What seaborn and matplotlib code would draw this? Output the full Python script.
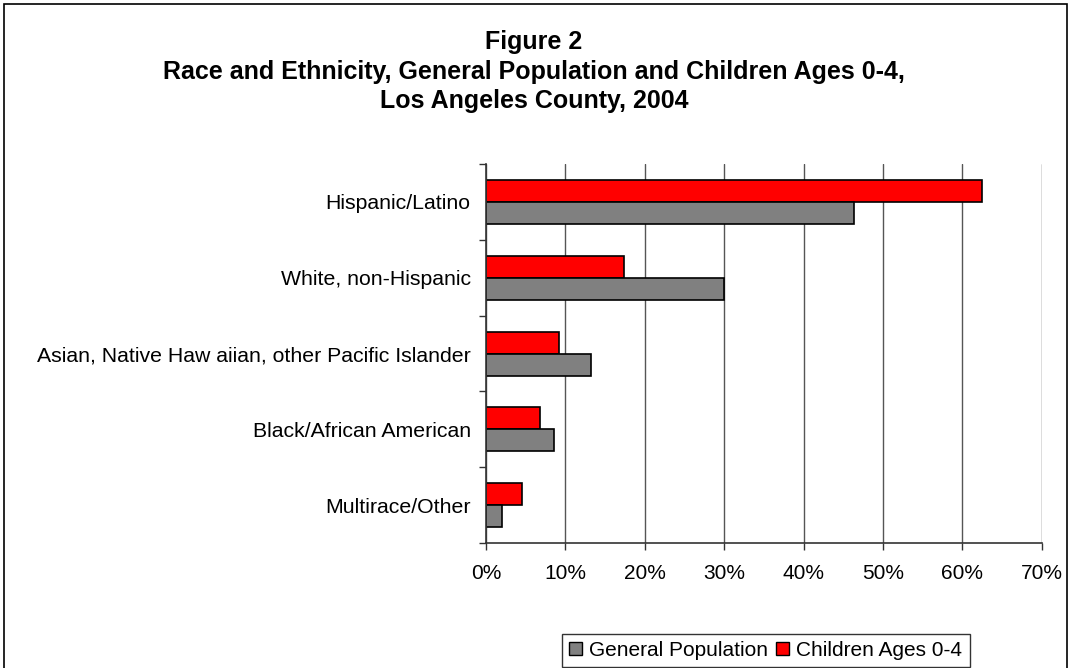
import matplotlib
matplotlib.use("Agg")
import matplotlib.pyplot as plt
import matplotlib.patches as mpatches
import seaborn as sns
import pandas as pd
import numpy as np
from matplotlib.ticker import PercentFormatter, FixedLocator

categories = ["Hispanic/Latino", "White, non-Hispanic",
              "Asian, Native Haw aiian, other Pacific Islander",
              "Black/African American", "Multirace/Other"]
general_population = [46.4, 30.0, 13.2, 8.6, 2.0]
children_0_4 = [62.4, 17.4, 9.2, 6.8, 4.5]
series_names = ["General Population", "Children Ages 0-4"]
xticks = [0, 10, 20, 30, 40, 50, 60, 70]

df = pd.DataFrame({
    "category": categories * 2,
    "value": general_population + children_0_4,
    "series": [series_names[0]] * len(categories) + [series_names[1]] * len(categories),
})

sns.set_theme(style="white")
plt.rcParams["font.family"] = ["Liberation Sans", "DejaVu Sans"]
plt.rcParams["text.color"] = "black"

fig = plt.figure(figsize=(10.71, 6.68), dpi=100)
ax = fig.add_axes([0.4538, 0.187, 0.519, 0.5675])

palette = {series_names[0]: "#808080", series_names[1]: "#FF0000"}
sns.barplot(data=df, y="category", x="value", hue="series",
            hue_order=[series_names[1], series_names[0]],
            order=categories, palette=palette, orient="h",
            width=0.58, edgecolor="black", linewidth=1.2,
            saturation=1, ax=ax, legend=False)

ax.set_xlim(0, 70)
ax.set_ylim(4.5, -0.5)
ax.xaxis.set_major_locator(FixedLocator(xticks))
ax.xaxis.set_major_formatter(PercentFormatter(decimals=0))
ax.grid(axis="x", color="#555555", linewidth=1)
ax.set_axisbelow(True)
ax.set_xlabel("")
ax.set_ylabel("")
for s in ["top", "right"]:
    ax.spines[s].set_visible(False)
for s in ["left", "bottom"]:
    ax.spines[s].set_visible(True)
    ax.spines[s].set_color("#333333")
    ax.spines[s].set_linewidth(1.2)

ax.tick_params(axis="x", which="major", direction="out", length=5, width=1,
               color="#333333", labelsize=15, pad=10, bottom=True)
ax.tick_params(axis="y", which="major", length=0, labelsize=15.3, pad=11)
ax.yaxis.set_minor_locator(FixedLocator(np.arange(-0.5, 5.0, 1.0)))
ax.tick_params(axis="y", which="minor", direction="out", length=5, width=1,
               color="#333333", left=True)
for lbl in ax.get_xticklabels() + ax.get_yticklabels():
    lbl.set_color("black")

title_lines = ["Figure 2",
               "Race and Ethnicity, General Population and Children Ages 0-4,",
               "Los Angeles County, 2004"]
for y, t in zip([0.937, 0.892, 0.849], title_lines):
    fig.text(0.4986, y, t, ha="center", va="center", fontsize=18,
             fontweight="bold", color="black")

handles = [mpatches.Patch(facecolor=palette[n], edgecolor="black", linewidth=1) for n in series_names]
leg = fig.legend(handles, series_names, loc="center", bbox_to_anchor=(0.715, 0.026),
                 ncol=2, frameon=True, fontsize=15, handlelength=0.6, handleheight=0.6,
                 handletextpad=0.35, columnspacing=0.4, borderpad=0.35, fancybox=False)
leg.get_frame().set_edgecolor("black")
leg.get_frame().set_linewidth(1)
for t in leg.get_texts():
    t.set_color("black")

border = mpatches.Rectangle((0.004, -0.01), 0.992, 1.004, transform=fig.transFigure,
                            fill=False, edgecolor="black", linewidth=1.2)
fig.patches.append(border)

fig.savefig("out.png", dpi=100)
